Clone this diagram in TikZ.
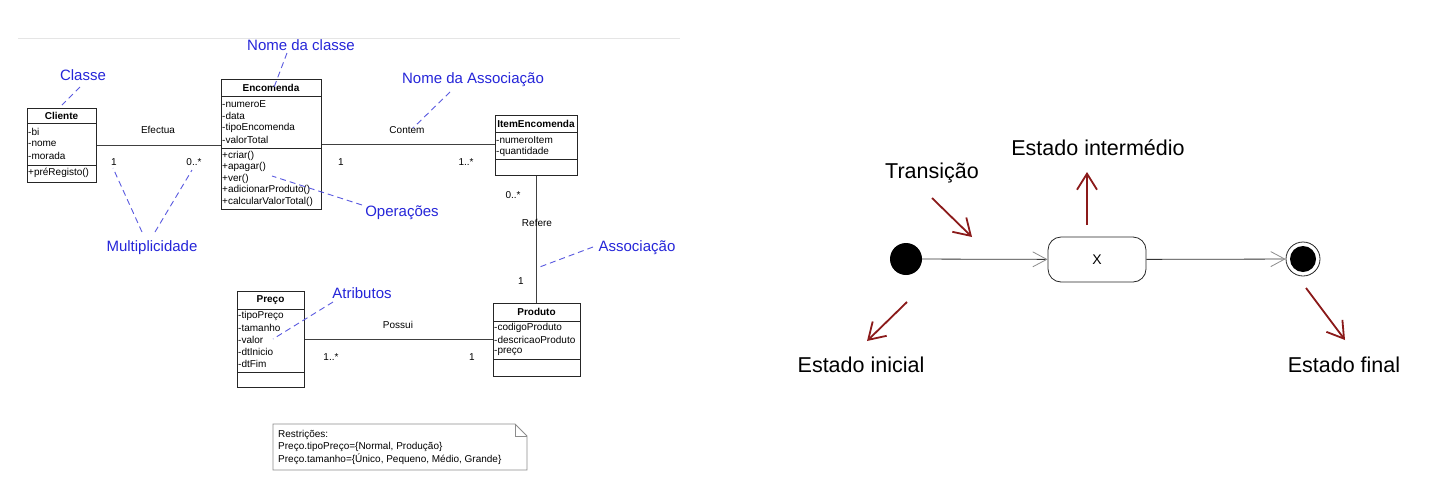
\documentclass[tikz,border=0pt]{standalone}
\usepackage{fontspec}
\setmainfont{Liberation Sans}
\usetikzlibrary{arrows.meta}
\definecolor{lblblue}{HTML}{2626D9}
\definecolor{dashblue}{HTML}{5A5AE0}
\definecolor{darkred}{HTML}{8B1A1A}
\begin{document}
\begin{tikzpicture}[x=1pt,y=-1pt,
  cls/.style={draw=black!85, line width=0.9pt, anchor=north west, inner sep=0pt},
  divider/.style={draw=black!85, line width=0.9pt},
  ttl/.style={inner sep=0pt, font=\bfseries\fontsize{10}{12}\selectfont},
  attr/.style={anchor=west, inner sep=0pt, font=\fontsize{10}{12}\selectfont},
  small/.style={inner sep=0pt, font=\fontsize{10}{12}\selectfont},
  assoc/.style={draw=black!75, line width=0.8pt},
  bluelbl/.style={inner sep=0pt, text=lblblue, font=\fontsize{15}{18}\selectfont},
  bluedash/.style={draw=dashblue, line width=0.9pt, dash pattern=on 6pt off 4pt},
  bigtxt/.style={inner sep=0pt, font=\fontsize{21.5}{26}\selectfont},
  redarrow/.style={draw=darkred, line width=1.8pt, -{Straight Barb[length=16pt,width=20pt]}},
  trans/.style={draw=black!80, line width=0.8pt, -{Straight Barb[length=14pt,width=15pt,color=black!45]}}
]
\fill[white] (0,0) rectangle (1435,491);
\useasboundingbox (0,0) rectangle (1435,491);

% top grey rule
\draw[black!10, line width=0.8pt] (18,38) -- (680,38);

% ---------- Cliente ----------
\node[cls, minimum width=69pt, minimum height=74pt] (cliente) at (27,108) {};
\draw[divider] (27,123) -- (96,123);
\draw[divider] (27,165) -- (96,165);
\node[ttl] (clienteT) at (61.5,116) {Cliente};
\node[attr] (c1) at (28,132) {-bi};
\node[attr] (c2) at (28,144) {-nome};
\node[attr] (c3) at (28,156) {-morada};
\node[attr] (c4) at (28,173) {+préRegisto()};

% ---------- Encomenda ----------
\node[cls, minimum width=100pt, minimum height=130pt] (encomenda) at (221,79) {};
\draw[divider] (221,96) -- (321,96);
\draw[divider] (221,148) -- (321,148);
\node[ttl] (encT) at (271,88) {Encomenda};
\node[attr] (e1) at (222,104) {-numeroE};
\node[attr] (e2) at (222,116) {-data};
\node[attr] (e3) at (222,128) {-tipoEncomenda};
\node[attr] (e4) at (222,140) {-valorTotal};
\node[attr] (e5) at (222,155.5) {+criar()};
\node[attr] (e6) at (222,167) {+apagar()};
\node[attr] (e7) at (222,178.5) {+ver()};
\node[attr] (e8) at (222,190) {+adicionarProduto()};
\node[attr] (e9) at (222,201.5) {+calcularValorTotal()};

% ---------- ItemEncomenda ----------
\node[cls, minimum width=82pt, minimum height=60pt] (item) at (495,115) {};
\draw[divider] (495,132) -- (577,132);
\draw[divider] (495,159) -- (577,159);
\node[ttl] (itemT) at (536,124) {ItemEncomenda};
\node[attr] (i1) at (496,140) {-numeroItem};
\node[attr] (i2) at (496,152) {-quantidade};

% ---------- Preço ----------
\node[cls, minimum width=67pt, minimum height=96pt] (preco) at (237,291) {};
\draw[divider] (237,309) -- (304,309);
\draw[divider] (237,372) -- (304,372);
\node[ttl] (precoT) at (270.5,300) {Preço};
\node[attr] (p1) at (238,316) {-tipoPreço};
\node[attr] (p2) at (238,328) {-tamanho};
\node[attr] (p3) at (238,340) {-valor};
\node[attr] (p4) at (238,352) {-dtInicio};
\node[attr] (p5) at (238,364) {-dtFim};

% ---------- Produto ----------
\node[cls, minimum width=87pt, minimum height=73pt] (produto) at (493,303) {};
\draw[divider] (493,321) -- (580,321);
\draw[divider] (493,359) -- (580,359);
\node[ttl] (prodT) at (536.5,312) {Produto};
\node[attr] (d1) at (494,328) {-codigoProduto};
\node[attr] (d2) at (494,340) {-descricaoProduto};
\node[attr] (d3) at (494,352) {-preço};

% ---------- associations ----------
\draw[assoc] (cliente.east) -- (cliente.east -| encomenda.west);
\draw[assoc] (encomenda.east) -- (encomenda.east -| item.west);
\draw[assoc] (item.south) -- (item.south |- produto.north);
\draw[assoc] (preco.east) -- (preco.east -| produto.west);

\node[small] (efectua) at (158,130) {Efectua};
\node[small] (contem) at (407,130) {Contem};
\node[small] (refere) at (537,223) {Refere};
\node[small] (possui) at (398,325) {Possui};

\node[small] (m1) at (114,162) {1};
\node[small] (m2) at (194,162) {0..*};
\node[small] (m3) at (341,162) {1};
\node[small] (m4) at (466,162) {1..*};
\node[small] (m5) at (513,195) {0..*};
\node[small] (m6) at (521,281) {1};
\node[small] (m7) at (331,357) {1..*};
\node[small] (m8) at (472,357) {1};

% ---------- blue annotations ----------
\node[bluelbl] (lClasse) at (83,75) {Classe};
\node[bluelbl] (lNome) at (301,45) {Nome da classe};
\node[bluelbl] (lNomeAssoc) at (473,80) {Nome da Associação};
\node[bluelbl] (lOper) at (402,213) {Operações};
\node[bluelbl] (lMult) at (152,248) {Multiplicidade};
\node[bluelbl] (lAssoc) at (637,248) {Associação};
\node[bluelbl] (lAtrib) at (362,293) {Atributos};

\coordinate (tClasse) at (62,105);
\coordinate (tNome) at (273,90);
\coordinate (tNomeAssoc) at (413,128);
\coordinate (tOper) at (272,176);
\coordinate (tMultA) at (113,168);
\coordinate (tMultB) at (192,170);
\coordinate (tAssoc) at (537,268);
\coordinate (tAtrib) at (273,339);

\draw[bluedash] (80,87) -- (tClasse);
\draw[bluedash] (287,53) -- (tNome);
\draw[bluedash] (450,92) -- (tNomeAssoc);
\draw[bluedash] (362,205) -- (tOper);
\draw[bluedash] (142,232) -- (tMultA);
\draw[bluedash] (155,232) -- (tMultB);
\draw[bluedash] (593,247) -- (tAssoc);
\draw[bluedash] (333,302) -- (tAtrib);

% ---------- note ----------
\draw[black!45, line width=0.8pt] (273,424) -- (515,424) -- (527,436) -- (527,470) -- (273,470) -- cycle;
\draw[black!45, line width=0.8pt] (515,424) -- (515,436) -- (527,436);
\node[attr] (n1) at (278,435) {Restrições:};
\node[attr] (n2) at (278,447) {Preço.tipoPreço=\{Normal, Produção\}};
\node[attr] (n3) at (278,459) {Preço.tamanho=\{Único, Pequeno, Médio, Grande\}};

% ---------- state diagram ----------
\node[circle, fill=black, inner sep=0pt, minimum size=32pt] (init) at (906,259) {};
\node[draw=black!85, line width=0.8pt, rounded corners=13pt, minimum width=98pt, minimum height=45pt, inner sep=0pt,
      font=\fontsize{14}{16}\selectfont] (state) at (1097,259.5) {X};
\node[circle, draw=black!85, line width=0.8pt, inner sep=0pt, minimum size=34pt,
      path picture={\fill[black] (path picture bounding box.center) circle (13pt);}] (final) at (1303,259) {};

\draw[trans] (init) -- (state);
\draw[trans] (state) -- (final);

\node[bigtxt] (tTrans) at (932,173) {Transição};
\node[bigtxt] (tInter) at (1098,148) {Estado intermédio};
\node[bigtxt] (tIni) at (861,365) {Estado inicial};
\node[bigtxt] (tFin) at (1344,365) {Estado final};

\coordinate (aT1) at (932,198); \coordinate (aT2) at (972,237);
\coordinate (aI1) at (1087,225); \coordinate (aI2) at (1087,172);
\coordinate (aS1) at (907,302); \coordinate (aS2) at (867,341);
\coordinate (aF1) at (1306,288); \coordinate (aF2) at (1345,340);
\draw[redarrow] (aT1) -- (aT2);
\draw[redarrow] (aI1) -- (aI2);
\draw[redarrow] (aS1) -- (aS2);
\draw[redarrow] (aF1) -- (aF2);
\end{tikzpicture}
\end{document}
